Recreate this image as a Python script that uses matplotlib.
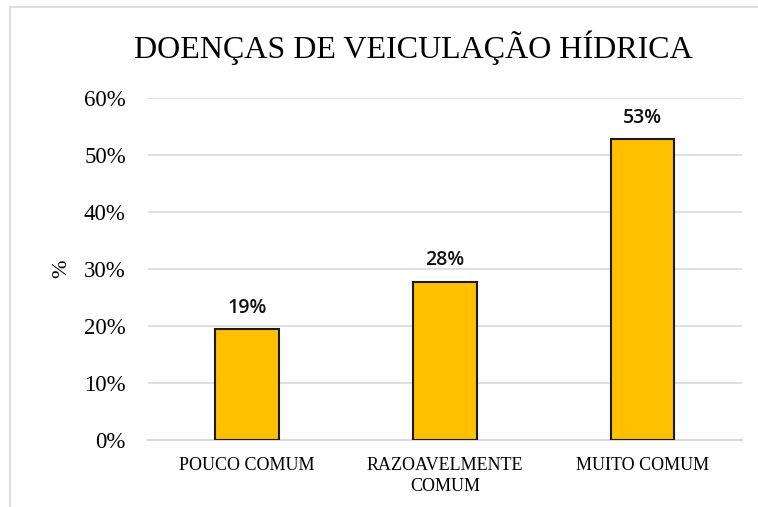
import matplotlib
matplotlib.use("Agg")
import matplotlib.pyplot as plt
from matplotlib.patches import Rectangle
from matplotlib.ticker import PercentFormatter

# ── Data ──────────────────────────────────────────────────────────────────────

categories = ["POUCO COMUM", "RAZOAVELMENTE\nCOMUM", "MUITO COMUM"]
values = [19.4, 27.8, 52.8]
value_labels = ["19%", "28%", "53%"]
y_ticks = [0, 10, 20, 30, 40, 50, 60]

title = "DOENÇAS DE VEICULAÇÃO HÍDRICA"

# ── Plot ──────────────────────────────────────────────────────────────────────

serif = "Liberation Serif"
grid_col = "#D9D9D9"

fig = plt.figure(figsize=(7.58, 5.07), dpi=100)
ax = fig.add_axes([0.1953, 0.1321, 0.7833, 0.6746])

x = range(len(categories))
ax.bar(x, values, width=0.32, color="#FFC000", edgecolor="#1a1a1a", linewidth=1.5, zorder=3)

for xi, v, lab in zip(x, values, value_labels):
    ax.annotate(lab, (xi, v), xytext=(0, 8), textcoords="offset points",
                ha="center", va="bottom", fontsize=14, fontfamily="Open Sans",
                fontweight="semibold", color="#111111", zorder=4)

ax.set_xlim(-0.5, len(categories) - 0.5)
ax.set_ylim(0, 60)
ax.set_yticks(y_ticks)
ax.yaxis.set_major_formatter(PercentFormatter(decimals=0))
ax.set_xticks(list(x))
ax.set_xticklabels(categories, fontfamily=serif, fontsize=13, linespacing=1.35)
for t in ax.get_yticklabels():
    t.set_fontfamily(serif)
    t.set_fontsize(16.5)

ax.grid(axis="y", color=grid_col, linewidth=1.2, zorder=0)
for s in ["top", "right", "left"]:
    ax.spines[s].set_visible(False)
ax.spines["bottom"].set_color(grid_col)
ax.spines["bottom"].set_linewidth(1.5)
ax.tick_params(axis="both", length=0)
ax.tick_params(axis="y", pad=16)
ax.tick_params(axis="x", pad=12)

ax.set_ylabel("%", fontfamily=serif, fontsize=16, labelpad=9)

fig.text(0.545, 0.905, title, ha="center", va="center", fontfamily=serif, fontsize=23)

# chart frame
fig.patches.append(Rectangle((10 / 758, -0.1), 1.2, (500 / 507) + 0.1, transform=fig.transFigure,
                             fill=False, edgecolor=grid_col, linewidth=1.2))

fig.savefig("out.png", dpi=100)
